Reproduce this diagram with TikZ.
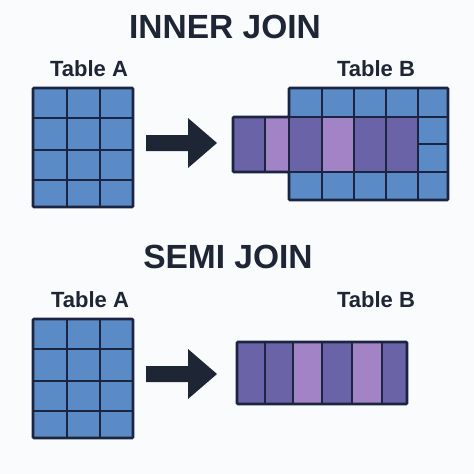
\documentclass[tikz,border=0pt]{standalone}
\usepackage{fontspec}
\setmainfont{Liberation Sans}
\definecolor{paper}{HTML}{FAFBFD}
\definecolor{inkblue}{HTML}{1E2535}
\definecolor{gridnavy}{HTML}{1B2440}
\definecolor{cellblue}{HTML}{5B8BC6}
\definecolor{darkpurple}{HTML}{6B63A8}
\definecolor{lightpurple}{HTML}{A283C6}
\begin{document}
\begin{tikzpicture}[x=1pt, y=-1pt,
    gridline/.style={line width=2.6pt, draw=gridnavy},
    titletext/.style={anchor=base, text=inkblue, font=\fontsize{33.5}{40}\selectfont\bfseries},
    tabletext/.style={anchor=base, text=inkblue, font=\fontsize{22}{26}\selectfont\bfseries}]
    \fill[paper] (0,0) rectangle (474,474);
    \useasboundingbox (0,0) rectangle (474,474);

    % titles and labels
    \node[titletext] (inner) at (225,38) {INNER JOIN};
    \node[titletext] (semi) at (228,268) {SEMI JOIN};
    \node[tabletext] (tA1) at (89,76) {Table A};
    \node[tabletext] (tB1) at (376,76) {Table B};
    \node[tabletext] (tA2) at (90,307) {Table A};
    \node[tabletext] (tB2) at (376,307) {Table B};

    % table A and arrow, both rows
    \foreach \dy in {0,231} {
        \begin{scope}[shift={(0,\dy)}]
            \fill[cellblue] (33,88) rectangle (133,207);
            \foreach \x in {67,100} \draw[gridline] (\x,88) -- (\x,207);
            \foreach \y in {118,150,180} \draw[gridline] (33,\y) -- (133,\y);
            \draw[gridline, rounded corners=1pt] (33,88) rectangle (133,207);
            \fill[inkblue] (146,135) -- (188,135) -- (188,118) -- (217,143)
                -- (188,168) -- (188,151) -- (146,151) -- cycle;
        \end{scope}
    }

    % inner join result
    \fill[cellblue] (289,88) rectangle (448,200);
    \foreach \xa/\xb/\c in {233/265/darkpurple, 265/289/lightpurple, 289/322/darkpurple,
        322/354/lightpurple, 354/386/darkpurple, 386/418/darkpurple}
        \fill[\c] (\xa,117) rectangle (\xb,172);
    \foreach \x in {322,354,386,418} \draw[gridline] (\x,88) -- (\x,200);
    \foreach \x in {265,289} \draw[gridline] (\x,117) -- (\x,172);
    \foreach \y in {117,172} \draw[gridline] (233,\y) -- (448,\y);
    \draw[gridline] (418,144) -- (448,144);
    \draw[gridline, rounded corners=1pt] (289,88) -- (448,88) -- (448,200) -- (289,200)
        -- (289,172) -- (233,172) -- (233,117) -- (289,117) -- cycle;

    % semi join result
    \foreach \xa/\xb/\c in {237/265/darkpurple, 265/293/darkpurple, 293/322/lightpurple,
        322/352/darkpurple, 352/382/lightpurple, 382/407/darkpurple}
        \fill[\c] (\xa,342) rectangle (\xb,404);
    \foreach \x in {265,293,322,352,382} \draw[gridline] (\x,342) -- (\x,404);
    \draw[gridline, rounded corners=1pt] (237,342) rectangle (407,404);

\end{tikzpicture}
\end{document}
